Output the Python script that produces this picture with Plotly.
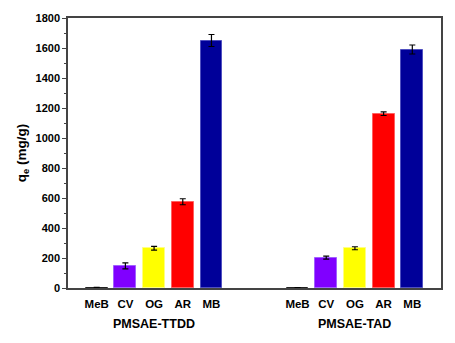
import plotly.graph_objects as go

# Dye adsorption capacities for two adsorbents
dyes = ["MeB", "CV", "OG", "AR", "MB"]
groups = ["PMSAE-TTDD", "PMSAE-TAD"]
qe_ttdd = [3, 148, 265, 575, 1650]
err_ttdd = [2, 20, 12, 20, 40]
qe_tad = [1, 203, 265, 1162, 1590]
err_tad = [1, 10, 10, 12, 30]
colors = ["#222222", "#8000FF", "#FFFF00", "#FF0000", "#000099"]
edge_colors = ["#222222", "#A060FF", "#FFFF80", "#FF6060", "#5050C0"]

# Category slots: group 1 at 0..4, group 2 at 7..11
pos_ttdd = list(range(0, 5))
pos_tad = list(range(7, 12))

fig = go.Figure()
for pos, vals, errs in [(pos_ttdd, qe_ttdd, err_ttdd), (pos_tad, qe_tad, err_tad)]:
    fig.add_trace(go.Bar(
        x=pos, y=vals,
        width=0.76,
        marker=dict(color=colors, line=dict(color=edge_colors, width=1)),
        error_y=dict(type="data", array=errs, visible=True,
                     color="black", thickness=1.2, width=3),
        showlegend=False,
    ))

font_bold = dict(family="Arial, Liberation Sans, sans-serif", size=11, color="black")

fig.update_layout(
    width=455, height=343,
    margin=dict(l=68, r=13, t=15, b=55),
    plot_bgcolor="white", paper_bgcolor="white",
    bargap=0,
    font=font_bold,
)
fig.update_xaxes(
    range=[-1, 12],
    tickmode="array",
    tickvals=pos_ttdd + pos_tad,
    ticktext=[f"<b>{d}</b>" for d in dyes] * 2,
    ticks="",
    ticklabelstandoff=4,
    showline=True, linecolor="#444444", linewidth=1.5, mirror=True,
    showgrid=False, zeroline=False,
    tickfont=dict(size=11.5),
)
fig.update_yaxes(
    range=[0, 1800],
    tickmode="array",
    tickvals=list(range(0, 1801, 200)),
    ticktext=[f"<b>{v}</b>" for v in range(0, 1801, 200)],
    ticks="outside", ticklen=4, tickwidth=1, tickcolor="#444444",
    minor=dict(tickvals=list(range(100, 1800, 200)), ticks="outside",
               ticklen=2, tickwidth=1, tickcolor="#444444"),
    showline=True, linecolor="#444444", linewidth=1.5, mirror=True,
    showgrid=False, zeroline=False,
    title=dict(text="<b>q<sub>e</sub> (mg/g)</b>", font=dict(size=13.5), standoff=6),
    tickfont=dict(size=11),
)

for name, pos in zip(groups, [pos_ttdd, pos_tad]):
    fig.add_annotation(
        x=sum(pos) / len(pos), y=0, xref="x", yref="paper",
        yshift=-36, yanchor="middle",
        text=f"<b>{name}</b>", showarrow=False,
        font=dict(size=12.5),
    )

fig.write_html("out.html")
